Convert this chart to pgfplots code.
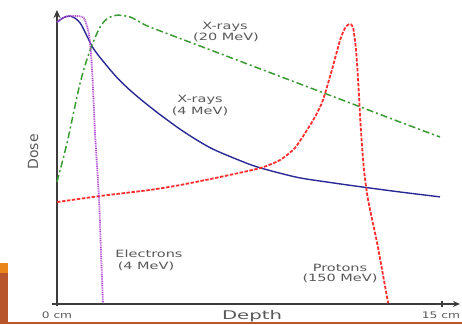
\documentclass[border=0pt]{standalone}
\usepackage{pgfplots}
\pgfplotsset{compat=1.18}
\usetikzlibrary{arrows.meta}
\usepackage{graphicx}
\usepackage{fontspec}
\setmainfont{DejaVu Sans}
\definecolor{xfour}{HTML}{2A2A96}
\definecolor{xtwenty}{HTML}{3A9A34}
\definecolor{proton}{HTML}{FF2E2E}
\definecolor{electron}{HTML}{B04CD2}
\definecolor{axgray}{HTML}{3C3C3C}
\definecolor{txtgray}{HTML}{585858}
\definecolor{slideorange}{HTML}{E8861A}
\definecolor{slidebrown}{HTML}{B8552B}
\newcommand{\lbl}[1]{\scalebox{1.45}[1]{\fontsize{10}{12}\selectfont #1}}
\begin{document}
\begin{tikzpicture}[x=1pt,y=1pt]
\path[use as bounding box] (0,0) rectangle (462,324);
% slide decoration
\fill[slideorange] (0,51) rectangle (8,61);
\fill[slidebrown] (0,0.5) rectangle (8,51);
\fill[slidebrown] (0,0.3) rectangle (462,1.6);
\begin{axis}[
  at={(52pt,18pt)}, anchor=south west,
  scale only axis, width=408pt, height=296pt,
  xmin=-0.195, xmax=15.70, ymin=-0.7, ymax=102.1,
  axis lines=middle,
  axis line style={axgray, line width=1.6pt},
  x axis line style={-{Stealth[length=7pt,width=6pt]}},
  y axis line style={-{Stealth[length=8pt,width=7pt]}},
  xtick={15}, xticklabels={}, ytick=\empty,
  major tick length=6pt,
  tick style={axgray, line width=1.2pt},
  clip=false,
]
% X-rays 4 MeV
\addplot[xfour, line width=1.4pt, smooth, tension=0.5] coordinates {
(0,97.9) (0.23,99.3) (0.51,100) (0.90,97.6) (1.40,89.0) (1.87,83.5)
(2.34,78.6) (2.80,74.6) (3.23,71.3) (3.62,68.5) (4.01,65.8) (4.91,60.0) (5.96,54.3)
(7.13,49.8) (7.91,47.3) (9.35,44.0) (10.64,42.2) (11.92,40.6) (13.36,38.9) (14.92,37.2)};
% X-rays 20 MeV
\addplot[xtwenty, line width=1.5pt, smooth, tension=0.5,
  dash pattern=on 7pt off 3pt on 2pt off 3pt] coordinates {
(0,42.4) (0.39,55.9) (0.90,76.7) (1.29,88.2) (1.68,96.2) (1.99,99.3)
(2.34,100.3) (2.84,99.7) (3.23,97.9) (3.62,96.2) (5.57,89.6) (7.52,83.0)
(9.47,76.4) (11.42,69.8) (13.36,63.2) (14.92,58.0)};
% Protons 150 MeV
\addplot[proton, line width=1.8pt, smooth, tension=0.4,
  dash pattern=on 3.5pt off 1.5pt] coordinates {
(0,35.4) (1.68,37.5) (3.62,39.6) (4.79,41.3) (6.35,44.1) (7.91,47.2)
(8.69,50.0) (9.27,54.2) (9.74,60.4) (10.09,65.6) (10.36,70.8) (10.71,81.3)
(11.03,91.7) (11.22,95.8) (11.38,97.2) (11.53,96.2) (11.65,88.2) (11.73,77.8)
(11.84,60.4) (11.96,46.5) (12.12,36.1) (12.47,21.2) (12.70,10.1) (12.90,0.3)};
% Electrons 4 MeV
\addplot[electron, line width=1.8pt, smooth, tension=0.4,
  dash pattern=on 1pt off 0.8pt] coordinates {
(0,97.9) (0.31,99.7) (0.70,100) (1.05,99.3) (1.25,93.4) (1.36,82.3)
(1.48,59.4) (1.52,53.5) (1.64,36.1) (1.71,18.8) (1.79,0.3)};
\end{axis}
% texts
\node[txtgray, rotate=90, font=\fontsize{14}{16}\selectfont] at (33,172) {Dose};
\node[txtgray, anchor=base] at (252,5) {\scalebox{1.64}[1]{\fontsize{12}{14}\selectfont Depth}};
\node[txtgray, anchor=base] at (57,6) {\scalebox{1.36}[1]{\fontsize{9}{11}\selectfont 0 cm}};
\node[txtgray, anchor=base] at (441,5.7) {\scalebox{1.36}[1]{\fontsize{9}{11}\selectfont 15 cm}};
\node[txtgray, anchor=base] at (225,294.7) {\lbl{X-rays}};
\node[txtgray, anchor=base] at (226,283.3) {\lbl{(20 MeV)}};
\node[txtgray, anchor=base] at (200,221.7) {\lbl{X-rays}};
\node[txtgray, anchor=base] at (200,209.7) {\lbl{(4 MeV)}};
\node[txtgray, anchor=base] at (149,66.7) {\lbl{Electrons}};
\node[txtgray, anchor=base] at (146,54.7) {\lbl{(4 MeV)}};
\node[txtgray, anchor=base] at (340,53) {\lbl{Protons}};
\node[txtgray, anchor=base] at (340,42.3) {\lbl{(150 MeV)}};
\end{tikzpicture}
\end{document}
